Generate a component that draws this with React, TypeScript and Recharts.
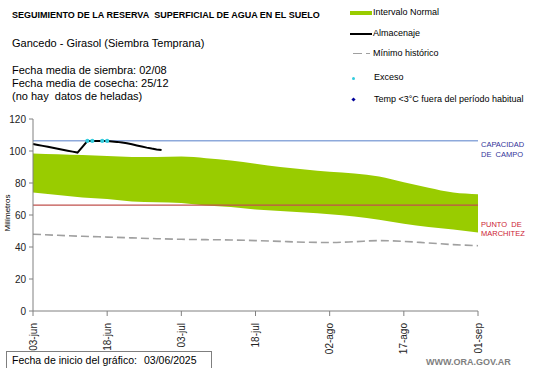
import React from "react";
import {
  Area,
  ComposedChart,
  Line,
  ReferenceLine,
  XAxis,
  YAxis,
} from "recharts";

// days since 03-jun
const bandDays = [0, 5, 10, 15, 20, 25, 30, 35, 40, 45, 50, 55, 60, 65, 70, 75, 80, 85, 90];
const upperValues = [98.5, 98, 97.5, 96.8, 96.3, 96.2, 96.5, 95.5, 94, 92, 90, 88.5, 87, 86, 84, 80.5, 77, 74, 73];
const lowerValues = [74, 72.5, 71, 70, 68.5, 68, 67.5, 66, 65, 63.5, 62.5, 61.5, 60.5, 59, 57, 54.5, 52.5, 51, 49];
const minimumValues = [48, 47.3, 46.7, 46.2, 45.7, 45.2, 44.8, 44.6, 44.4, 44, 43.5, 43, 42.8, 43.3, 44, 43.5, 42.5, 41.5, 40.8];

const storageDays = [0, 1, 2, 3, 4, 5, 6, 7, 8, 9, 10, 11, 12, 13, 14, 15, 16, 17, 18, 19, 20, 21, 22, 23, 24, 25, 26];
const storageValues = [
  104.4, 103.8, 103.2, 102.6, 102, 101.4, 100.8, 100.2, 99.6, 99, 102.6, 106.2, 106.3, 106.3, 106.3,
  106.2, 106, 105.7, 105.3, 104.8, 104.2, 103.5, 102.8, 102.1, 101.5, 101, 100.6,
];

const excessDays = [11, 12, 14, 15];
const excessValues = [106.3, 106.3, 106.3, 106.3];

const tickDays = [0, 15, 30, 45, 60, 75, 90];
const tickLabels = ["03-jun", "18-jun", "03-jul", "18-jul", "02-ago", "17-ago", "01-sep"];
const yTicks = [0, 20, 40, 60, 80, 100, 120];

const fieldCapacity = 106.4;
const wiltingPoint = 66.2;

const bandData = bandDays.map((day, i) => ({
  day,
  band: [lowerValues[i], upperValues[i]],
  minimum: minimumValues[i],
}));
const storageData = storageDays.map((day, i) => ({ day, storage: storageValues[i] }));
const excessData = excessDays.map((day, i) => ({ day, excess: excessValues[i] }));

const FONT = "'Liberation Sans', Arial, sans-serif";

function XTick(props: any) {
  const { x, y, payload } = props;
  const idx = tickDays.indexOf(payload.value);
  return (
    <text
      x={0}
      y={0}
      transform={`translate(${x},${y + 5}) rotate(-90)`}
      textAnchor="end"
      dominantBaseline="central"
      fontSize={10}
      fontFamily={FONT}
      fill="#222"
    >
      {tickLabels[idx]}
    </text>
  );
}

function Txt({
  x,
  y,
  size,
  children,
  style,
}: {
  x: number;
  y: number;
  size: number;
  children: React.ReactNode;
  style?: React.CSSProperties;
}) {
  return (
    <div
      style={{
        position: "absolute",
        left: x,
        top: y - size * 0.6,
        fontSize: size,
        lineHeight: `${size * 1.2}px`,
        fontFamily: FONT,
        whiteSpace: "nowrap",
        color: "#000",
        ...style,
      }}
    >
      {children}
    </div>
  );
}

export default function App() {
  return (
    <div
      style={{
        position: "absolute",
        left: 0,
        top: 0,
        width: 541,
        height: 368,
        background: "#fff",
        overflow: "hidden",
      }}
    >
      <ComposedChart
        width={541}
        height={368}
        margin={{ top: 119, right: 63, left: 0, bottom: 0 }}
      >
        <XAxis
          dataKey="day"
          type="number"
          domain={[0, 90]}
          ticks={tickDays}
          allowDuplicatedCategory={false}
          height={57}
          tick={<XTick />}
          tickSize={5}
          stroke="#808080"
          interval={0}
        />
        <YAxis
          type="number"
          domain={[0, 120]}
          ticks={yTicks}
          width={33}
          tickSize={4}
          tickMargin={3}
          stroke="#808080"
          tick={{ fill: "#222", fontSize: 10, fontFamily: FONT }}
          interval={0}
        />
        <Area
          data={bandData}
          dataKey="band"
          type="monotone"
          fill="#99CC00"
          fillOpacity={1}
          stroke="none"
          isAnimationActive={false}
        />
        <Line
          data={bandData}
          dataKey="minimum"
          type="monotone"
          stroke="#A0A0A0"
          strokeWidth={1.6}
          strokeDasharray="8 4"
          dot={false}
          isAnimationActive={false}
        />
        <ReferenceLine y={fieldCapacity} stroke="#8EA9DB" strokeWidth={1.3} />
        <ReferenceLine y={wiltingPoint} stroke="#C0504D" strokeWidth={1.2} />
        <Line
          data={storageData}
          dataKey="storage"
          type="linear"
          stroke="#000"
          strokeWidth={2}
          dot={false}
          isAnimationActive={false}
        />
        <Line
          data={excessData}
          dataKey="excess"
          stroke="none"
          dot={{ r: 2.1, fill: "#33CCDD", stroke: "none" }}
          activeDot={false}
          isAnimationActive={false}
        />
      </ComposedChart>

      {/* header */}
      <Txt x={12} y={15} size={9} style={{ fontWeight: "bold" }}>
        SEGUIMIENTO DE LA RESERVA&nbsp; SUPERFICIAL DE AGUA EN EL SUELO
      </Txt>
      <Txt x={12} y={44} size={11}>Gancedo - Girasol (Siembra Temprana)</Txt>
      <Txt x={12} y={71} size={11}>Fecha media de siembra: 02/08</Txt>
      <Txt x={12} y={84} size={11}>Fecha media de cosecha: 25/12</Txt>
      <Txt x={12} y={97} size={11}>(no hay&nbsp; datos de heladas)</Txt>

      {/* legend */}
      <div style={{ position: "absolute", left: 350, top: 11, width: 22, height: 4, background: "#99CC00" }} />
      <Txt x={373} y={12.5} size={9}>Intervalo Normal</Txt>
      <div style={{ position: "absolute", left: 350, top: 32.5, width: 22, height: 2, background: "#000" }} />
      <Txt x={373} y={33.5} size={9}>Almacenaje</Txt>
      <div style={{ position: "absolute", left: 353, top: 52.5, width: 9, height: 1.5, background: "#A0A0A0" }} />
      <div style={{ position: "absolute", left: 366, top: 52.5, width: 4, height: 1.5, background: "#A0A0A0" }} />
      <Txt x={373} y={53.5} size={9}>Mínimo histórico</Txt>
      <div style={{ position: "absolute", left: 352, top: 76.5, width: 3, height: 3, borderRadius: 2, background: "#33CCDD" }} />
      <Txt x={374} y={77} size={9}>Exceso</Txt>
      <div
        style={{
          position: "absolute",
          left: 352,
          top: 97.5,
          width: 3,
          height: 3,
          background: "#000099",
          transform: "rotate(45deg)",
        }}
      />
      <Txt x={374} y={99} size={9}>Temp &lt;3°C fuera del período habitual</Txt>

      {/* y label */}
      <div
        style={{
          position: "absolute",
          left: 7,
          top: 213,
          fontSize: 8,
          fontFamily: FONT,
          whiteSpace: "nowrap",
          transform: "translate(-50%, -50%) rotate(-90deg)",
        }}
      >
        Milímetros
      </div>

      {/* right labels */}
      <Txt x={481} y={144.5} size={7.5} style={{ color: "#333399" }}>CAPACIDAD</Txt>
      <Txt x={481} y={154} size={7.5} style={{ color: "#333399" }}>DE&nbsp; CAMPO</Txt>
      <Txt x={481} y={224} size={7.5} style={{ color: "#CC2233" }}>PUNTO&nbsp; DE</Txt>
      <Txt x={481} y={233} size={7.5} style={{ color: "#CC2233" }}>MARCHITEZ</Txt>

      {/* footer */}
      <div
        style={{
          position: "absolute",
          left: 6,
          top: 351,
          width: 204,
          height: 16,
          border: "1px solid #7F7F7F",
        }}
      />
      <Txt x={12} y={360} size={10.5}>Fecha de inicio del gráfico:</Txt>
      <Txt x={144} y={360} size={10.5}>03/06/2025</Txt>
      <Txt x={426} y={362} size={9} style={{ fontWeight: "bold", color: "#808080" }}>
        WWW.ORA.GOV.AR
      </Txt>
    </div>
  );
}
